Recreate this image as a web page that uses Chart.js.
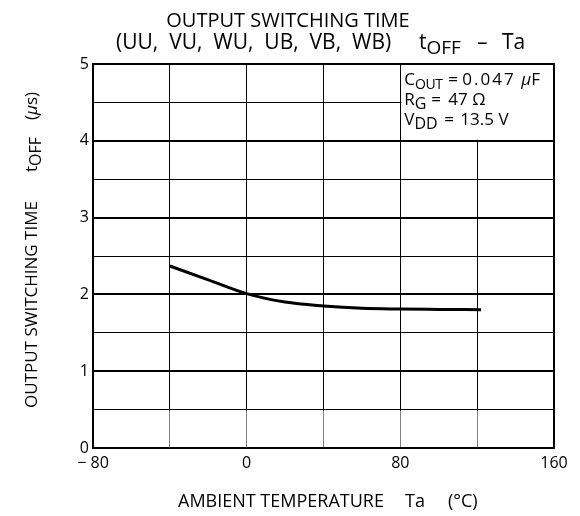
<!DOCTYPE html>
<html>
<head>
<meta charset="utf-8">
<script src="https://cdn.jsdelivr.net/npm/chart.js@4/dist/chart.umd.min.js"></script>
<style>
  html, body { margin: 0; padding: 0; background: #fff; }
  #wrap { width: 580px; height: 516px; }
</style>
</head>
<body>
<div id="wrap"><canvas id="chart" width="580" height="516"></canvas></div>
<script>
// toff vs ambient temperature
const temps = [-40, -20, 0, 20, 40, 60, 80, 100, 122];
const toff = [2.37, 2.19, 2.01, 1.90, 1.85, 1.82, 1.81, 1.805, 1.80];
const xLabels = [-80, 0, 80, 160];
const yLabels = [0, 1, 2, 3, 4, 5];

const FONT = "'Open Sans', sans-serif";

// draw a run of text pieces starting at x; sub pieces sit lower and a bit smaller
// a piece with "at" jumps to that offset from the start, "ls" sets letter spacing
function richText(ctx, parts, x, y, size) {
  let cx = x;
  ctx.textAlign = 'left';
  ctx.textBaseline = 'alphabetic';
  parts.forEach(p => {
    ctx.font = (p.it ? 'italic ' : '') + Math.round(p.sub ? size * (p.sz || 0.92) : size) + 'px ' + FONT;
    ctx.letterSpacing = p.ls || '0px';
    if (p.at !== undefined) cx = x + p.at;
    ctx.fillText(p.t, cx, p.sub ? y + size * 0.25 : y);
    cx += ctx.measureText(p.t).width;
  });
  ctx.letterSpacing = '0px';
}

const textPlugin = {
  id: 'texts',
  beforeDatasetsDraw(chart) {
    // lighter stubs of the vertical grid in the lowest half cell
    const ctx = chart.ctx;
    const xs = chart.scales.x, ys = chart.scales.y;
    ctx.save();
    ctx.strokeStyle = '#808080';
    ctx.lineWidth = 1;
    xs.ticks.forEach(t => {
      if (t.value <= -80 || t.value >= 160) return;
      const px = Math.round(xs.getPixelForValue(t.value) - 0.5) + 0.5;
      ctx.beginPath();
      ctx.moveTo(px, ys.getPixelForValue(0.5) + 1);
      ctx.lineTo(px, ys.getPixelForValue(0) - 1);
      ctx.stroke();
    });
    ctx.restore();
  },
  afterDraw(chart) {
    const ctx = chart.ctx;
    const xs = chart.scales.x, ys = chart.scales.y;
    const a = chart.chartArea;
    ctx.save();
    ctx.fillStyle = '#000';

    ctx.font = '20px ' + FONT;
    ctx.textAlign = 'center';
    ctx.textBaseline = 'alphabetic';
    ctx.fillText('OUTPUT SWITCHING TIME', 288, 27);
    richText(ctx, [
      { t: '(UU,  VU,  WU,  UB,  VB,  WB)' },
      { t: 't', at: 303 }, { t: 'OFF', sub: true },
      { t: '\u2013', at: 361 },
      { t: 'Ta', at: 386 }
    ], 116, 49, 21);

    // condition box in the upper right cell
    const bx0 = xs.getPixelForValue(80), bx1 = xs.getPixelForValue(160);
    const by0 = ys.getPixelForValue(5), by1 = ys.getPixelForValue(4);
    ctx.fillStyle = '#fff';
    ctx.fillRect(bx0 + 1, by0 + 1, bx1 - bx0 - 2, by1 - by0 - 2);
    ctx.fillStyle = '#000';
    const tx = bx0 + 4;
    richText(ctx, [
      { t: 'C' }, { t: 'OUT', sub: true, sz: 0.85, ls: '-0.5px' },
      { t: '=', at: 44 }, { t: '0.047', at: 58, ls: '2px' },
      { t: '\u00b5', it: true, at: 117 }, { t: 'F' }
    ], tx, by0 + 21, 17);
    richText(ctx, [{ t: 'R' }, { t: 'G', sub: true }, { t: '=', at: 27 }, { t: '47 \u03a9', at: 44 }], tx, by0 + 41, 17);
    richText(ctx, [{ t: 'V' }, { t: 'DD', sub: true }, { t: '=', at: 40 }, { t: '13.5 V', at: 56 }], tx, by0 + 61, 17);

    // plot frame
    ctx.strokeStyle = '#000';
    ctx.lineWidth = 2;
    ctx.strokeRect(a.left, a.top, a.right - a.left, a.bottom - a.top);

    // axis titles
    richText(ctx, [{ t: 'AMBIENT TEMPERATURE' }, { t: 'Ta', at: 227 }, { t: '(\u00b0C)', at: 270 }], 178, 507, 18);
    ctx.translate(37, 408);
    ctx.rotate(-Math.PI / 2);
    richText(ctx, [
      { t: 'OUTPUT SWITCHING TIME' },
      { t: 't', at: 236 }, { t: 'OFF', sub: true },
      { t: '(', at: 288 }, { t: '\u00b5', it: true }, { t: 's)' }
    ], 0, 0, 17);
    ctx.restore();
  }
};

new Chart(document.getElementById('chart'), {
  type: 'line',
  data: {
    datasets: [{
      data: temps.map((t, i) => ({ x: t, y: toff[i] })),
      borderColor: '#000',
      borderWidth: 3,
      pointRadius: 0,
      cubicInterpolationMode: 'monotone',
      fill: false
    }]
  },
  options: {
    responsive: false,
    animation: false,
    layout: { padding: { left: 0, top: 64, right: 26, bottom: 0 } },
    plugins: { legend: { display: false }, tooltip: { enabled: false } },
    scales: {
      x: {
        type: 'linear',
        min: -80, max: 160,
        afterFit(scale) { scale.height = 68; },
        border: { display: true, color: '#000', width: 2 },
        grid: { color: '#000', lineWidth: 1, drawTicks: false },
        ticks: {
          stepSize: 40,
          padding: 6,
          color: '#000',
          font: { family: FONT, size: 16 },
          callback: v => xLabels.includes(v) ? (v < 0 ? '\u2212 ' + Math.abs(v) : String(v)) : ''
        }
      },
      y: {
        min: 0, max: 5,
        afterFit(scale) { scale.width = 93; },
        border: { display: true, color: '#000', width: 2 },
        grid: {
          color: '#000',
          drawTicks: false,
          lineWidth: c => (c.tick && Number.isInteger(c.tick.value)) ? 2 : 1
        },
        ticks: {
          stepSize: 0.5,
          padding: 4,
          color: '#000',
          font: { family: FONT, size: 16 },
          callback: v => yLabels.includes(v) ? String(v) : ''
        }
      }
    }
  },
  plugins: [textPlugin]
});
</script>
</body>
</html>
